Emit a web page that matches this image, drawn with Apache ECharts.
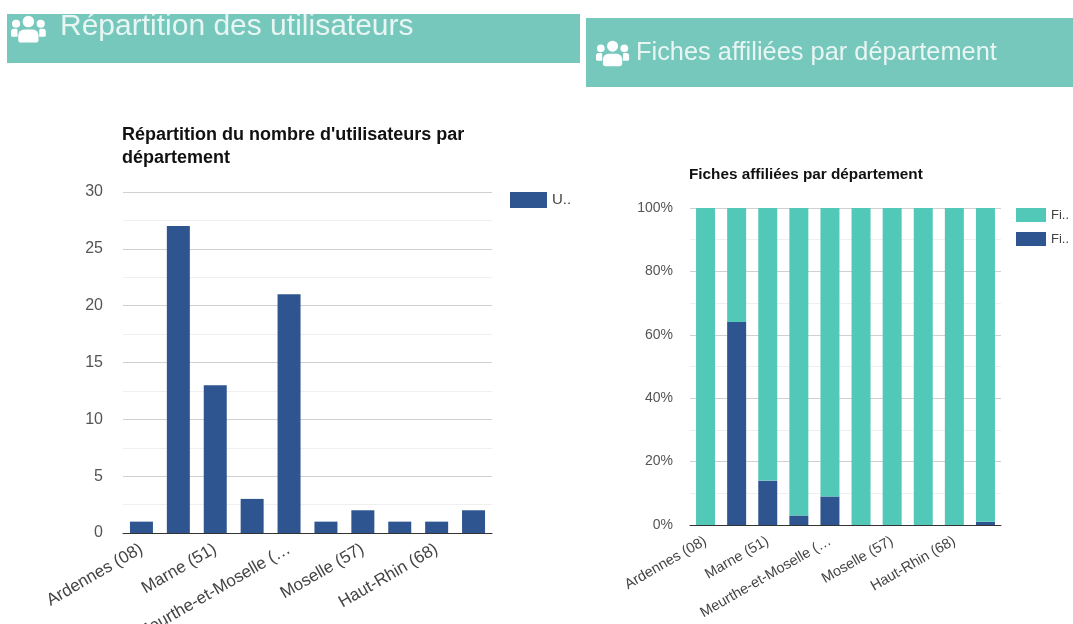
<!DOCTYPE html>
<html>
<head>
<meta charset="utf-8">
<title>Répartition par département</title>
<script src="https://cdn.jsdelivr.net/npm/echarts@6/dist/echarts.min.js"></script>
<style>
html, body { margin: 0; padding: 0; background: #fff; }
#chart { width: 1073px; height: 624px; }
</style>
</head>
<body>
<div id="chart"></div>
<script>
// departements, un label sur deux est affiche comme sur l'original
const departements = ['Ardennes (08)', 'Aube (10)', 'Marne (51)', 'Haute-Marne (52)', 'Meurthe-et-Moselle (…', 'Meuse (55)', 'Moselle (57)', 'Bas-Rhin (67)', 'Haut-Rhin (68)', 'Vosges (88)']
const utilisateurs = [1, 27, 13, 3, 21, 1, 2, 1, 1, 2]
const fichesAffiliees = [0, 64, 14, 3, 9, 0, 0, 0, 0, 1]
const fichesAutres = [100, 36, 86, 97, 91, 100, 100, 100, 100, 99]

const NAVY = '#2f5590'
const TEAL = '#52c8b8'
const BAND = '#76c7bc'
const FONT = '"Liberation Sans", Arial, sans-serif'

// icone "groupe d'utilisateurs" en blanc
function usersIcon(x, y, s) {
  const white = { fill: '#fff' }
  return {
    type: 'group',
    x: x, y: y, scaleX: s, scaleY: s, z: 10,
    children: [
      { type: 'circle', z: 10, shape: { cx: 12, cy: 4.5, r: 4 }, style: white },
      { type: 'circle', z: 10, shape: { cx: 3.5, cy: 6, r: 2.8 }, style: white },
      { type: 'circle', z: 10, shape: { cx: 20.5, cy: 6, r: 2.8 }, style: white },
      { type: 'rect', z: 10, shape: { x: 5, y: 10, width: 14, height: 9, r: [4, 4, 2, 2] }, style: white },
      { type: 'rect', z: 10, shape: { x: 0, y: 9.5, width: 4.5, height: 5.5, r: [2, 1, 0, 1] }, style: white },
      { type: 'rect', z: 10, shape: { x: 19.5, y: 9.5, width: 4.5, height: 5.5, r: [1, 2, 1, 0] }, style: white }
    ]
  }
}

function xAxisFor(gridIndex, fontSize) {
  return {
    type: 'category',
    gridIndex: gridIndex,
    data: departements,
    axisTick: { show: false },
    axisLine: { lineStyle: { color: '#333', width: 1 } },
    axisLabel: {
      interval: 1,
      rotate: 30,
      margin: 15,
      color: '#444',
      fontFamily: FONT,
      fontSize: fontSize
    }
  }
}

function yAxisFor(gridIndex, max, interval, fontSize, margin, formatter) {
  return {
    type: 'value',
    gridIndex: gridIndex,
    min: 0,
    max: max,
    interval: interval,
    axisLine: { show: false },
    axisTick: { show: false },
    minorTick: { show: false, splitNumber: 2 },
    axisLabel: {
      color: '#555',
      fontFamily: FONT,
      fontSize: fontSize,
      margin: margin,
      formatter: formatter
    },
    splitLine: { lineStyle: { color: '#d0d0d0' } },
    minorSplitLine: { show: true, lineStyle: { color: '#efefef' } }
  }
}

const myChart = echarts.init(document.getElementById('chart'), null, { renderer: 'canvas' })
myChart.setOption({
  animation: false,
  backgroundColor: '#fff',
  textStyle: { fontFamily: FONT },
  title: [
    {
      text: "Répartition du nombre d'utilisateurs par\ndépartement",
      left: 117, top: 119,
      textStyle: { fontSize: 18, fontWeight: 'bold', color: '#111', lineHeight: 23, fontFamily: FONT }
    },
    {
      text: 'Fiches affiliées par département',
      left: 684, top: 162,
      textStyle: { fontSize: 15.3, fontWeight: 'bold', color: '#111', fontFamily: FONT }
    }
  ],
  legend: [
    {
      data: ['Utilisateurs'],
      left: 505, top: 187,
      itemWidth: 37, itemHeight: 16,
      icon: 'rect',
      formatter: () => 'U..',
      textStyle: { color: '#444', fontSize: 15, fontFamily: FONT }
    },
    {
      data: ['Fiches non affiliées', 'Fiches affiliées'],
      left: 1011, top: 203,
      orient: 'vertical',
      itemGap: 10,
      itemWidth: 30, itemHeight: 14,
      icon: 'rect',
      formatter: () => 'Fi..',
      textStyle: { color: '#444', fontSize: 13, fontFamily: FONT }
    }
  ],
  grid: [
    { left: 123, right: 581, top: 192, bottom: 91, outerBoundsMode: 'none' },
    { left: 690, right: 72, top: 208, bottom: 99, outerBoundsMode: 'none' }
  ],
  xAxis: [xAxisFor(0, 17), xAxisFor(1, 14.5)],
  yAxis: [
    yAxisFor(0, 30, 5, 16, 20, '{value}'),
    yAxisFor(1, 100, 20, 14, 17, '{value}%')
  ],
  series: [
    {
      name: 'Utilisateurs',
      type: 'bar',
      xAxisIndex: 0, yAxisIndex: 0,
      barWidth: 23,
      itemStyle: { color: NAVY },
      data: utilisateurs
    },
    {
      name: 'Fiches affiliées',
      type: 'bar',
      stack: 'fiches',
      xAxisIndex: 1, yAxisIndex: 1,
      barWidth: 19,
      itemStyle: { color: NAVY },
      data: fichesAffiliees
    },
    {
      name: 'Fiches non affiliées',
      type: 'bar',
      stack: 'fiches',
      xAxisIndex: 1, yAxisIndex: 1,
      barWidth: 19,
      itemStyle: { color: TEAL },
      data: fichesAutres
    }
  ],
  graphic: [
    { type: 'rect', shape: { x: 7, y: 14, width: 573, height: 49 }, style: { fill: BAND }, z: 5 },
    { type: 'rect', shape: { x: 586, y: 18, width: 487, height: 69 }, style: { fill: BAND }, z: 5 },
    {
      type: 'text', x: 60, y: 12, z: 10,
      style: { text: 'Répartition des utilisateurs', fill: '#e8f6f3', font: '30px ' + FONT }
    },
    {
      type: 'text', x: 636, y: 40, z: 10,
      style: { text: 'Fiches affiliées par département', fill: '#e8f6f3', font: '25.4px ' + FONT }
    },
    usersIcon(11, 15, 1.45),
    usersIcon(596, 40, 1.38),
    // coupe le haut du premier bandeau comme sur la capture
    { type: 'rect', shape: { x: 0, y: 0, width: 585, height: 14 }, style: { fill: '#fff' }, z: 20 }
  ]
})
</script>
</body>
</html>
